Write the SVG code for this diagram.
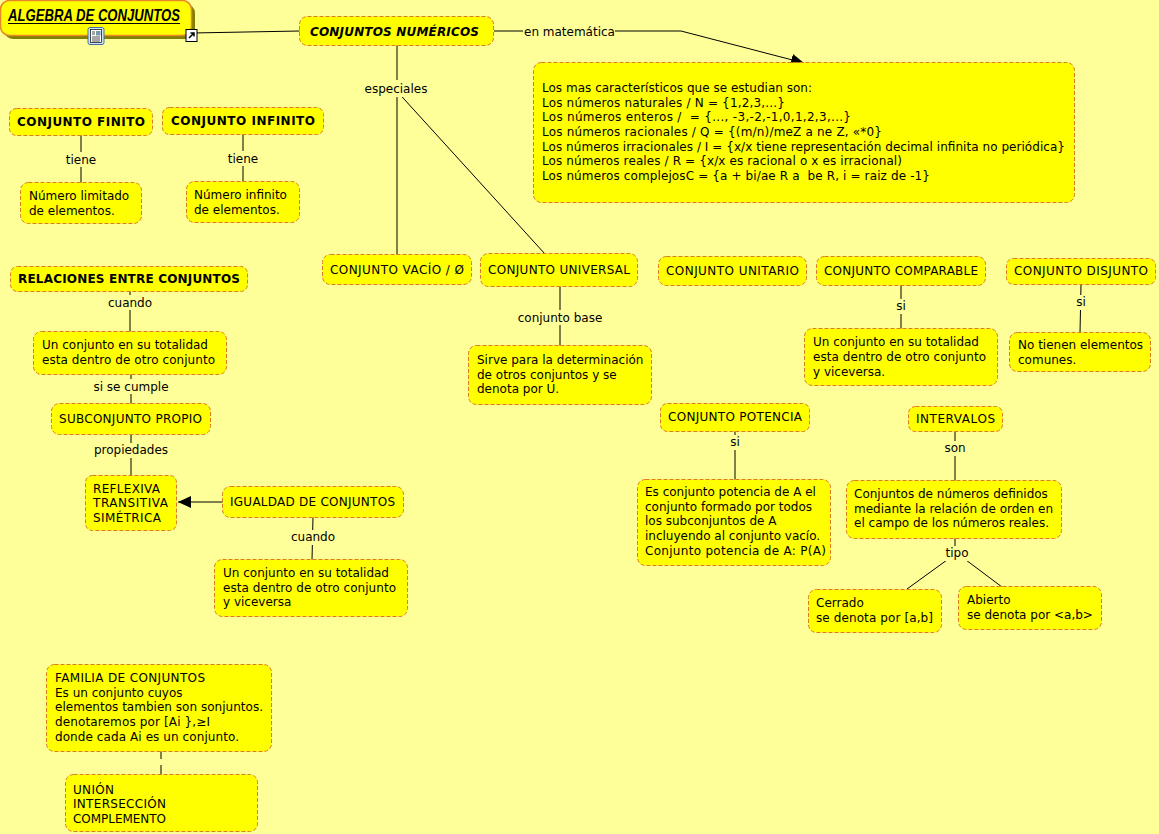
<svg xmlns="http://www.w3.org/2000/svg" width="1159" height="834" viewBox="0 0 1159 834">
<style>
text{font-family:"DejaVu Sans",Verdana,sans-serif;font-size:12px;fill:#000;white-space:pre}
.b{font-weight:bold}
.n{fill:#ffff00;stroke:#dd7a22;stroke-width:1;stroke-dasharray:4 2}
.c{stroke:#000;stroke-width:1;fill:none}
.l{text-anchor:middle}
.g{fill:#ffff99}
</style>
<defs>
<marker id="a" markerWidth="14" markerHeight="12" refX="13" refY="6" orient="auto" markerUnits="userSpaceOnUse"><path d="M0 0L13 6L0 12Z" fill="#000"/></marker>
</defs>
<rect width="1159" height="834" fill="#ffff99"/>
<g id="connectors">
<path class="c" d="M192 33L300 31"/>
<path class="c" d="M494 31H523M615 31H681L804 63" marker-end="url(#a)"/>
<path class="c" d="M397 45V256"/>
<path class="c" d="M394 88L545 254"/>
<path class="c" d="M81 135V183"/>
<path class="c" d="M243 134V182"/>
<path class="c" d="M130 291V332"/>
<path class="c" d="M131 374V404"/>
<path class="c" d="M131 434V476"/>
<path class="c" d="M223 502H178" marker-end="url(#a)"/>
<path class="c" d="M313 517L312 560"/>
<path class="c" d="M560 286V346"/>
<path class="c" d="M901 285V329"/>
<path class="c" d="M1081 284L1080 333"/>
<path class="c" d="M735 431V480"/>
<path class="c" d="M955 431V481"/>
<path class="c" d="M955 538V560M947 560L907 589M966 560L1002 587"/>
<path class="c" d="M161 751V775"/>
<g class="g">
<rect x="362" y="80" width="68" height="17"/><rect x="64" y="152" width="34" height="15"/><rect x="226" y="151" width="34" height="15"/>
<rect x="106" y="295" width="50" height="15"/><rect x="90" y="379" width="82" height="15"/><rect x="92" y="443" width="78" height="15"/>
<rect x="288" y="530" width="50" height="15"/><rect x="514" y="310" width="92" height="15"/><rect x="893" y="299" width="16" height="15"/>
<rect x="1073" y="295" width="16" height="15"/><rect x="727" y="435" width="16" height="15"/><rect x="942" y="441" width="26" height="15"/><rect x="943" y="546" width="28" height="15"/>
<rect x="158" y="759" width="6" height="6"/>
</g>
</g>
<text class="l" x="396" y="93">especiales</text>
<text x="524" y="36">en matemática</text>
<text class="l" x="81" y="164">tiene</text>
<text class="l" x="243" y="163">tiene</text>
<text class="l" x="130" y="307">cuando</text>
<text class="l" x="131" y="391">si se cumple</text>
<text class="l" x="131" y="454">propiedades</text>
<text class="l" x="313" y="541">cuando</text>
<text class="l" x="560" y="322">conjunto base</text>
<text class="l" x="901" y="310">si</text>
<text class="l" x="1081" y="306">si</text>
<text class="l" x="735" y="446">si</text>
<text class="l" x="955" y="452">son</text>
<text class="l" x="957" y="557">tipo</text>

<g id="title">
<rect x="4" y="4" width="191" height="35" rx="9" fill="#808000"/>
<rect x="0.500" y="0.500" width="191" height="35" rx="9" fill="#ffff00" stroke="#e8862a" stroke-width="1.500"/>
<text x="8" y="21" style="font-family:'Liberation Sans',Arial,sans-serif;font-size:16.500px;font-weight:bold;font-style:italic" textLength="172" lengthAdjust="spacingAndGlyphs">ALGEBRA DE CONJUNTOS</text>
<path d="M8 23.500H180" stroke="#000" fill="none"/>
<rect x="88" y="27.500" width="16" height="17" rx="2" fill="#cfe0f2" stroke="#3f74a8"/>
<rect x="90.500" y="29.500" width="11" height="13" fill="#fff" stroke="#000" stroke-width=".7"/>
<path d="M92 37h8M92 39h8M92 41h8M92 32h3M92 34h3" stroke="#000" stroke-width=".7"/>
<rect x="96" y="31" width="4.500" height="4.500" fill="#7a9ab0"/>
<rect x="186" y="29.500" width="11" height="12" fill="#fff" stroke="#000"/>
<path d="M189 38L193 34M190.500 33H194V36.500" stroke="#000" stroke-width="1.500" fill="none"/>
</g>
<g id="n-numericos"><rect class="n" x="299.500" y="16.500" width="194" height="29" rx="8"/><text x="310" y="36" class="b" style="font-style:italic" textLength="169">CONJUNTOS NUMÉRICOS</text></g>
<g id="n-mas"><rect class="n" x="533.500" y="62.500" width="541" height="140" rx="8"/>
<text x="542" y="92" textLength="270">Los mas característicos que se estudian son:</text>
<text x="542" y="106.500" textLength="243">Los números naturales / N = {1,2,3,...}</text>
<text x="542" y="121" textLength="309">Los números enteros /  = {..., -3,-2,-1,0,1,2,3,...}</text>
<text x="542" y="136" textLength="340">Los números racionales / Q = {(m/n)/meZ a ne Z, «*0}</text>
<text x="542" y="150.500" textLength="523">Los números irracionales / I = {x/x tiene representación decimal infinita no periódica}</text>
<text x="542" y="165" textLength="360">Los números reales / R = {x/x es racional o x es irracional)</text>
<text x="542" y="179.500" textLength="388">Los números complejosC = {a + bi/ae R a  be R, i = raiz de -1}</text></g>
<g id="n-finito"><rect class="n" x="9.500" y="108.500" width="143" height="27" rx="7"/><text x="17" y="126" class="b" textLength="128">CONJUNTO FINITO</text></g>
<g id="n-infinito"><rect class="n" x="162.500" y="107.500" width="161" height="27" rx="7"/><text x="171" y="125" class="b" textLength="144">CONJUNTO INFINITO</text></g>
<g id="n-limitado"><rect class="n" x="20.500" y="182.500" width="121" height="41" rx="8"/><text x="29" y="200">Número limitado</text><text x="29" y="215">de elementos.</text></g>
<g id="n-infinitoel"><rect class="n" x="186.500" y="181.500" width="113" height="41" rx="8"/><text x="194" y="199">Número infinito</text><text x="194" y="214">de elementos.</text></g>
<g id="n-relaciones"><rect class="n" x="10.500" y="266.500" width="237" height="25" rx="7"/><text x="18" y="283" class="b" textLength="222">RELACIONES ENTRE CONJUNTOS</text></g>
<g id="n-vacio"><rect class="n" x="322.500" y="254.500" width="149" height="30" rx="8"/><text x="330" y="274" textLength="134">CONJUNTO VACÍO / Ø</text></g>
<g id="n-universal"><rect class="n" x="480.500" y="253.500" width="157" height="33" rx="8"/><text x="488" y="274" textLength="142">CONJUNTO UNIVERSAL</text></g>
<g id="n-unitario"><rect class="n" x="658.500" y="256.500" width="148" height="29" rx="8"/><text x="666" y="275" textLength="133">CONJUNTO UNITARIO</text></g>
<g id="n-comparable"><rect class="n" x="816.500" y="256.500" width="169" height="29" rx="8"/><text x="824" y="275" textLength="154">CONJUNTO COMPARABLE</text></g>
<g id="n-disjunto"><rect class="n" x="1006.500" y="258.500" width="149" height="26" rx="7"/><text x="1014" y="275" textLength="134">CONJUNTO DISJUNTO</text></g>
<g id="n-totalidad"><rect class="n" x="33.500" y="331.500" width="193" height="43" rx="8"/><text x="42" y="349">Un conjunto en su totalidad</text><text x="42" y="364" textLength="173">esta dentro de otro conjunto</text></g>
<g id="n-base"><rect class="n" x="468.500" y="345.500" width="183" height="59" rx="8"/><text x="477" y="364">Sirve para la determinación</text><text x="477" y="379">de otros conjuntos y se</text><text x="477" y="393">denota por U.</text></g>
<g id="n-viceversa"><rect class="n" x="804.500" y="328.500" width="193" height="57" rx="8"/><text x="813" y="346">Un conjunto en su totalidad</text><text x="813" y="361" textLength="173">esta dentro de otro conjunto</text><text x="813" y="376">y viceversa.</text></g>
<g id="n-comunes"><rect class="n" x="1009.500" y="332.500" width="141" height="39" rx="8"/><text x="1018" y="349">No tienen elementos</text><text x="1018" y="364">comunes.</text></g>
<g id="n-subconjunto"><rect class="n" x="51.500" y="403.500" width="159" height="31" rx="8"/><text x="59" y="423" textLength="143">SUBCONJUNTO PROPIO</text></g>
<g id="n-reflexiva"><rect class="n" x="85.500" y="475.500" width="91" height="55" rx="7"/><text x="93" y="493" textLength="67">REFLEXIVA</text><text x="93" y="507" textLength="75">TRANSITIVA</text><text x="93" y="522" textLength="68">SIMÉTRICA</text></g>
<g id="n-igualdad"><rect class="n" x="222.500" y="486.500" width="181" height="31" rx="8"/><text x="230" y="506" textLength="165">IGUALDAD DE CONJUNTOS</text></g>
<g id="n-totalidad2"><rect class="n" x="214.500" y="559.500" width="193" height="57" rx="8"/><text x="223" y="577">Un conjunto en su totalidad</text><text x="223" y="592" textLength="173">esta dentro de otro conjunto</text><text x="223" y="606">y viceversa</text></g>
<g id="n-potencia"><rect class="n" x="660.500" y="403.500" width="149" height="28" rx="7"/><text x="668" y="421" textLength="134">CONJUNTO POTENCIA</text></g>
<g id="n-potenciatxt"><rect class="n" x="637.500" y="479.500" width="193" height="86" rx="8"/><text x="645" y="496">Es conjunto potencia de A el</text><text x="645" y="511">conjunto formado por todos</text><text x="645" y="525">los subconjuntos de A</text><text x="645" y="540">incluyendo al conjunto vacío.</text><text x="645" y="555" textLength="181">Conjunto potencia de A: P(A)</text></g>
<g id="n-intervalos"><rect class="n" x="908.500" y="406.500" width="94" height="25" rx="7"/><text x="916" y="423" textLength="79">INTERVALOS</text></g>
<g id="n-numeros"><rect class="n" x="846.500" y="480.500" width="215" height="58" rx="8"/><text x="854" y="498">Conjuntos de números definidos</text><text x="854" y="513">mediante la relación de orden en</text><text x="854" y="527">el campo de los números reales.</text></g>
<g id="n-cerrado"><rect class="n" x="808.500" y="589.500" width="133" height="43" rx="8"/><text x="816" y="607">Cerrado</text><text x="816" y="622" textLength="117">se denota por [a,b]</text></g>
<g id="n-abierto"><rect class="n" x="958.500" y="586.500" width="143" height="43" rx="8"/><text x="967" y="604">Abierto</text><text x="967" y="619">se denota por &lt;a,b&gt;</text></g>
<g id="n-familia"><rect class="n" x="46.500" y="664.500" width="225" height="87" rx="8"/><text x="55" y="682" textLength="150">FAMILIA DE CONJUNTOS</text><text x="55" y="697">Es un conjunto cuyos</text><text x="55" y="711" textLength="208">elementos tambien son sonjuntos.</text><text x="55" y="726" textLength="155">denotaremos por [Ai },≥I</text><text x="55" y="741" textLength="184">donde cada Ai es un conjunto.</text></g>
<g id="n-union"><rect class="n" x="65.500" y="774.500" width="192" height="57" rx="8"/><text x="73" y="794" textLength="41">UNIÓN</text><text x="73" y="808" textLength="93">INTERSECCIÓN</text><text x="73" y="823" textLength="93">COMPLEMENTO</text></g>
</svg>
